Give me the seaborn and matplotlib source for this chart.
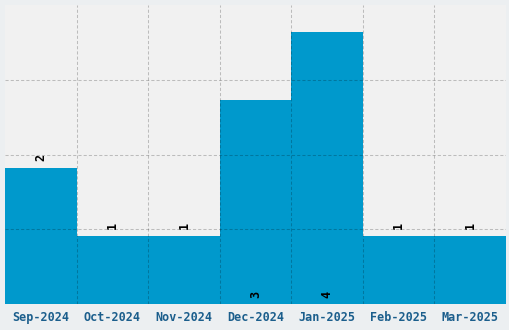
import matplotlib
matplotlib.use("Agg")
import matplotlib.pyplot as plt
import seaborn as sns
import pandas as pd
import numpy as np

months = ["Sep-2024", "Oct-2024", "Nov-2024", "Dec-2024", "Jan-2025", "Feb-2025", "Mar-2025"]
counts = [2, 1, 1, 3, 4, 1, 1]

df = pd.DataFrame({"month": months, "count": counts})

sns.set_theme(style="white")
plt.rcParams["font.family"] = ["DejaVu Sans Mono", "DejaVu Sans"]

fig = plt.figure(figsize=(5.1, 3.3), dpi=100, facecolor="#ECEFF1")
ax = fig.add_axes([5 / 510, 1 - 304 / 330, 501 / 510, 299 / 330])
ax.set_facecolor("#F1F1F1")

sns.barplot(data=df, x="month", y="count", color="#0099CC", saturation=1,
            width=1.0, ax=ax, zorder=1)
for p in ax.patches:
    p.set_edgecolor("none")

ymax = 4.4
ax.set_ylim(0, ymax)
ax.set_xlim(-0.5, len(months) - 0.5)
ax.set_yticks(np.linspace(0, ymax, 5)[1:-1])
ax.set_yticklabels([])
ax.set_xticks(range(len(months)))
ax.set_xticks(np.arange(0.5, len(months) - 0.5, 1), minor=True)
ax.tick_params(axis="both", which="both", length=0)
ax.grid(False)
gl = dict(color="black", alpha=0.22, linestyle=(0, (3, 2)), linewidth=0.75, zorder=3)
ax.xaxis.grid(True, which="minor", **gl)
ax.yaxis.grid(True, which="major", **gl)
ax.set_axisbelow(False)
for s in ax.spines.values():
    s.set_visible(False)
ax.set_xlabel("")
ax.set_ylabel("")
for lbl in ax.get_xticklabels():
    lbl.set_fontweight("bold")
    lbl.set_fontsize(8.5)
    lbl.set_color("#1B5E8C")
ax.tick_params(axis="x", pad=5)

for i, v in enumerate(counts):
    if v >= 3:
        ax.annotate(str(v), (i, 0), xytext=(0, 4), textcoords="offset points",
                    ha="center", va="bottom", rotation=90, fontsize=8.5,
                    fontweight="bold", color="black", zorder=4)
    else:
        ax.annotate(str(v), (i, v), xytext=(0, 5), textcoords="offset points",
                    ha="center", va="bottom", rotation=90, fontsize=8.5,
                    fontweight="bold", color="black", zorder=4)

fig.savefig("out.png", dpi=100, facecolor=fig.get_facecolor())
